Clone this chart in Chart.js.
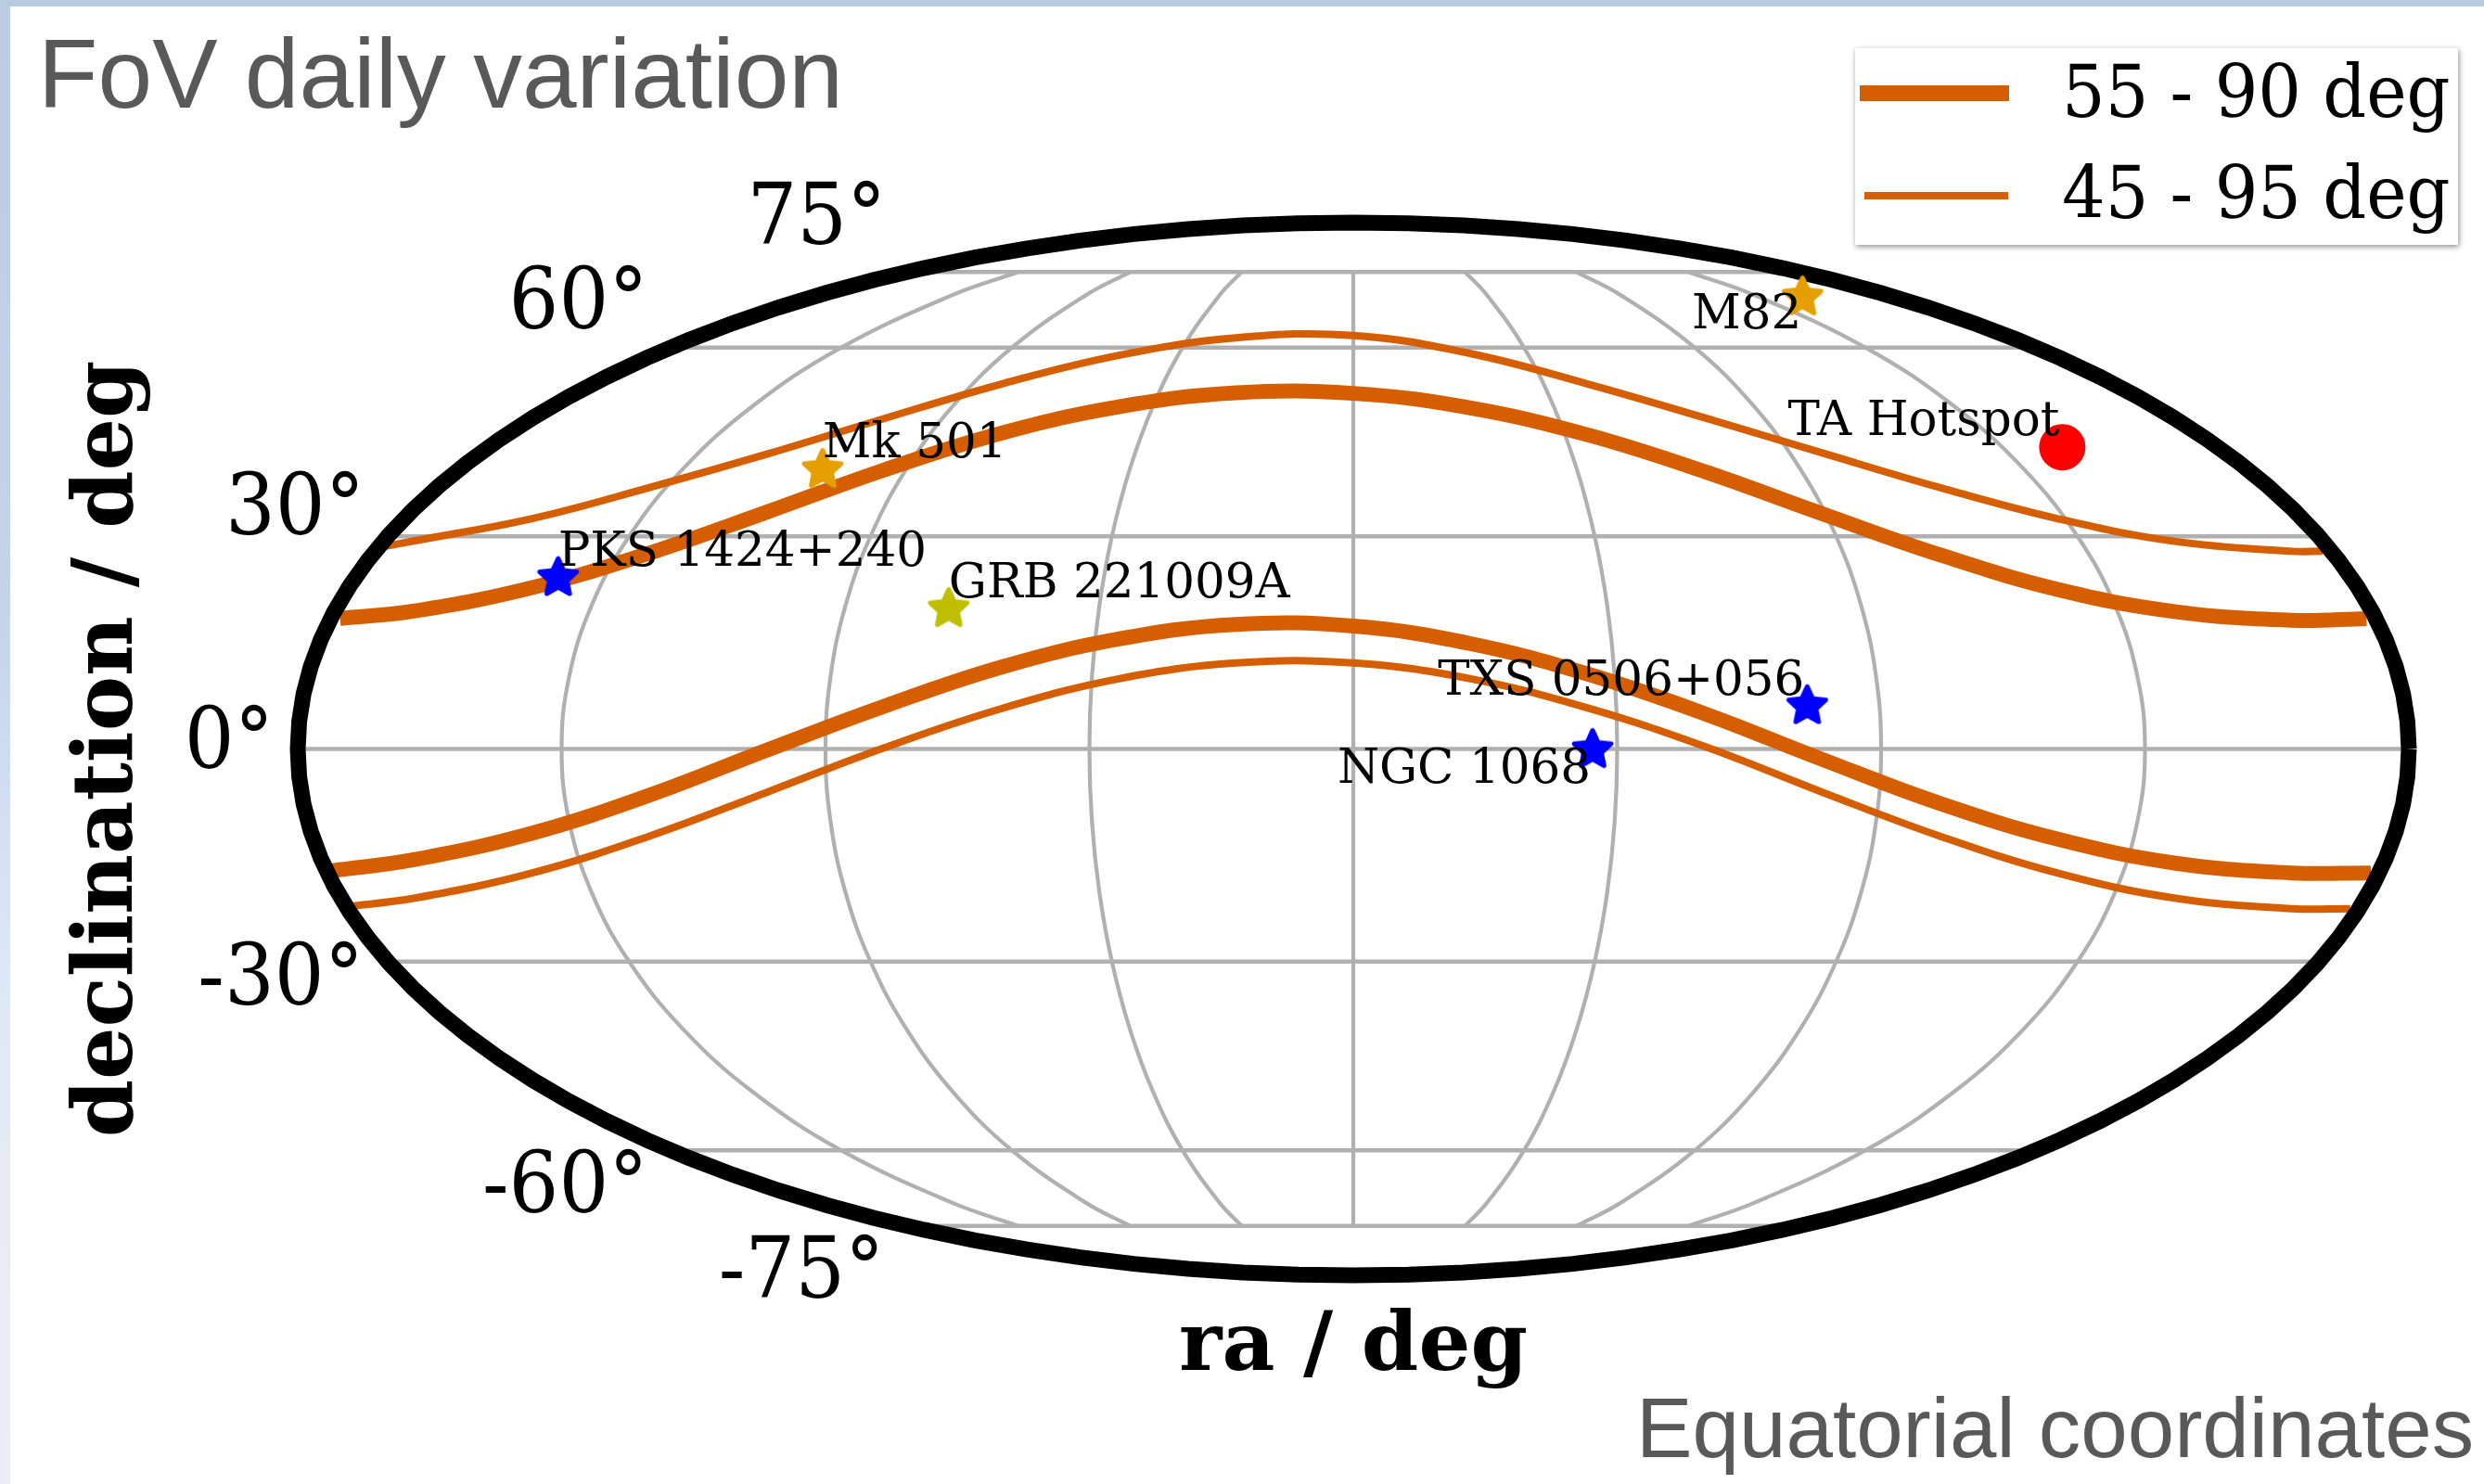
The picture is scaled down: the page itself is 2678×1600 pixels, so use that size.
<!DOCTYPE html>
<html>
<head>
<meta charset="utf-8">
<title>FoV daily variation</title>
<script src="https://cdn.jsdelivr.net/npm/chart.js@4"></script>
<style>
html, body { margin: 0; padding: 0; }
body { width: 2678px; height: 1600px; position: relative; overflow: hidden;
  background: linear-gradient(180deg, #bccde3 0%, #c3d4e9 40%, #dce8f5 66%, #e8ebf4 82%, #ebedf4 100%); }
#topbar { position: absolute; left: 0; top: 0; width: 2678px; height: 7px; background: #b9cbe0; }
#sheet { position: absolute; left: 11px; top: 7px; width: 2667px; height: 1593px; background: #fff; }
#fov { position: absolute; left: 0; top: 0; }
</style>
</head>
<body>
<div id="topbar"></div>
<div id="sheet"></div>
<canvas id="fov" width="2678" height="1600"></canvas>
<script>
// all curves and sources are read off the picture in map units:
// x runs -180..180 across the ellipse, y runs -90..90 up it (already projected)
var thickUpperX = [-172.8, -160, -140, -120, -100, -80, -60, -40, -20, 0, 20, 40, 60, 80, 100, 120, 140, 160, 172.8];
var thickUpperY = [22.3, 23.6, 27.6, 33.5, 40.5, 47.7, 54.0, 58.5, 60.9, 60.8, 58.3, 53.7, 47.4, 40.2, 33.2, 27.3, 23.5, 22.0, 22.3];

var thickLowerX = [-174, -160, -140, -120, -100, -80, -60, -40, -20, 0, 20, 40, 60, 80, 100, 120, 140, 160, 173.5];
var thickLowerY = [-20.8, -18.9, -14.4, -7.9, -0.2, 7.3, 14.0, 18.8, 21.3, 21.0, 18.0, 12.8, 6.0, -1.8, -9.3, -15.4, -19.5, -21.2, -21.2];

var thinUpperX = [-165.3, -160, -140, -120, -100, -80, -60, -40, -20, 0, 20, 40, 60, 80, 100, 120, 140, 160, 165.3];
var thinUpperY = [34.6, 35.6, 39.4, 44.7, 50.4, 56.5, 62.4, 67.3, 70.3, 70.7, 67.6, 62.4, 56.6, 50.6, 44.7, 39.4, 35.5, 33.8, 33.8];

var thinLowerX = [-172, -160, -140, -120, -100, -80, -60, -40, -20, 0, 20, 40, 60, 80, 100, 120, 140, 160, 170];
var thinLowerY = [-27.0, -25.5, -21.2, -14.9, -7.4, 0.2, 6.9, 12.0, 14.7, 14.7, 12.0, 7.0, 0.4, -7.4, -14.9, -21.2, -25.5, -27.3, -27.3];

var sourceNames = ["PKS 1424+240", "Mk 501", "GRB 221009A", "M82", "TA Hotspot", "TXS 0506+056", "NGC 1068"];
var sourceX = [-135.6, -90.5, -69.0, 76.6, 120.9, 77.4, 40.8];
var sourceY = [29.4, 47.9, 24.1, 77.4, 51.6, 7.5, 0];

var decTicks = [75, 60, 30, 0, -30, -60, -75];
var raTicks = [-135, -90, -45, 0, 45, 90, 135];
var legendLabels = ["55 - 90 deg", "45 - 95 deg"];

// styles and text offsets, kept apart from the values
var ORANGE = "#d55e00";
var GRID = "#b0b0b0";
var SERIF = "'DejaVu Serif', serif";
var SANS = "'Liberation Sans', Arial, sans-serif";
var sourceColors = ["#0000ff", "#e69f00", "#bfbf00", "#e69f00", "#ff0000", "#0000ff", "#0000ff"];
var labelAlign = ["left", "left", "left", "right", "right", "right", "right"];
var labelDx = [0, 0, 0, -1, -3, -3, -2];
var labelDy = [-12, -12, -12, 35, -13, -11, 36];
var tickDx = [-22, -24, -25, -26, -26, -24, -24];
var tickDy = [-30, -21, -2, 20, 46, 67, 77];

// mollweide: solve the auxiliary angle for a declination
function auxAngle(dec) {
	var phi = dec * Math.PI / 180;
	var t = phi;
	for (var i = 0; i < 40; i++) {
		t = t - (2 * t + Math.sin(2 * t) - Math.PI * Math.sin(phi)) / (2 + 2 * Math.cos(2 * t));
	}
	return t;
}
function project(ra, dec) {
	var t = auxAngle(dec);
	return { x: ra * Math.cos(t), y: 90 * Math.sin(t) };
}
function toPoints(xs, ys) {
	return xs.map(function (x, i) { return { x: x, y: ys[i] }; });
}

// filled star image, chart.js' own 'star' is only strokes
function starImage(color) {
	var size = 56, c = document.createElement("canvas");
	c.width = size; c.height = size;
	var g = c.getContext("2d"), R = 21, r = 10, cx = size / 2, cy = size / 2 + 1;
	g.beginPath();
	for (var i = 0; i < 10; i++) {
		var a = -Math.PI / 2 + i * Math.PI / 5, d = i % 2 ? r : R;
		g.lineTo(cx + d * Math.cos(a), cy + d * Math.sin(a));
	}
	g.closePath();
	g.fillStyle = color; g.strokeStyle = color; g.lineWidth = 5; g.lineJoin = "round";
	g.fill(); g.stroke();
	return c;
}

var datasets = [];

// graticule
decTicks.forEach(function (dec) {
	datasets.push({ label: "dec " + dec, data: [project(-180, dec), project(180, dec)], showLine: true,
		borderColor: GRID, borderWidth: 4.5, pointRadius: 0, order: 10, clip: false });
});
var meridianDecs = [-75, -70, -60, -50, -40, -30, -20, -10, 0, 10, 20, 30, 40, 50, 60, 70, 75];
raTicks.forEach(function (ra) {
	datasets.push({ label: "ra " + ra, data: meridianDecs.map(function (dec) { return project(ra, dec); }), showLine: true,
		borderColor: GRID, borderWidth: 4.2, pointRadius: 0, tension: 0.4, order: 10, clip: false });
});

// the four FoV curves
[[thickUpperX, thickUpperY, 16, legendLabels[0]], [thickLowerX, thickLowerY, 16, legendLabels[0]],
 [thinUpperX, thinUpperY, 8, legendLabels[1]], [thinLowerX, thinLowerY, 8, legendLabels[1]]].forEach(function (c) {
	datasets.push({ label: c[3], data: toPoints(c[0], c[1]), showLine: true, borderColor: ORANGE, borderWidth: c[2],
		pointRadius: 0, tension: 0.4, borderCapStyle: "butt", order: 5, clip: false });
});

// outline of the sky
var frameAngles = [];
for (var a = 0; a <= 360; a += 3) { frameAngles.push(a * Math.PI / 180); }
datasets.push({ label: "frame", data: frameAngles.map(function (t) { return { x: 180 * Math.cos(t), y: 90 * Math.sin(t) }; }), showLine: true,
	borderColor: "#000", borderWidth: 17, pointRadius: 0, order: 3, clip: false });

// sources
sourceNames.forEach(function (name, i) {
	var isDot = name === "TA Hotspot";
	datasets.push({ label: name, data: [{ x: sourceX[i], y: sourceY[i] }], showLine: false,
		pointStyle: isDot ? "circle" : starImage(sourceColors[i]), pointRadius: isDot ? 25 : 28,
		backgroundColor: sourceColors[i], borderColor: sourceColors[i], borderWidth: 0, order: 1, clip: false });
});

// text squeezed sideways, the labels in the picture are a bit narrower than the font
function squeezed(ctx, text, x, y, sx) {
	ctx.save();
	ctx.translate(x, y);
	ctx.scale(sx, 1);
	ctx.fillText(text, 0, 0);
	ctx.restore();
}

var textPlugin = {
	id: "skyText",
	afterDraw: function (chart) {
		var ctx = chart.ctx, sx = chart.scales.x, sy = chart.scales.y;
		ctx.save();
		ctx.textBaseline = "alphabetic";

		// declination labels
		ctx.fillStyle = "#000";
		ctx.textAlign = "right";
		ctx.font = "92px " + SERIF;
		decTicks.forEach(function (dec, i) {
			var p = project(-180, dec);
			squeezed(ctx, dec + "°", sx.getPixelForValue(p.x) + tickDx[i], sy.getPixelForValue(p.y) + tickDy[i], 0.92);
		});

		// source labels
		ctx.font = "51.5px " + SERIF;
		sourceNames.forEach(function (name, i) {
			ctx.textAlign = labelAlign[i];
			ctx.fillText(name, sx.getPixelForValue(sourceX[i]) + labelDx[i], sy.getPixelForValue(sourceY[i]) + labelDy[i]);
		});

		// slide captions
		ctx.fillStyle = "#595959";
		ctx.textAlign = "left";
		ctx.font = "106px " + SANS;
		ctx.fillText("FoV daily variation", 41, 116, 868);
		ctx.font = "91px " + SANS;
		ctx.fillText("Equatorial coordinates", 1764, 1571, 903);

		// legend
		ctx.save();
		ctx.shadowColor = "rgba(0,0,0,0.45)";
		ctx.shadowBlur = 6;
		ctx.shadowOffsetX = 1;
		ctx.shadowOffsetY = 2;
		ctx.fillStyle = "#fff";
		ctx.fillRect(2000, 52, 650, 212);
		ctx.restore();
		ctx.strokeStyle = ORANGE;
		ctx.lineWidth = 17;
		ctx.beginPath(); ctx.moveTo(2005, 100.5); ctx.lineTo(2166, 100.5); ctx.stroke();
		ctx.lineWidth = 8;
		ctx.beginPath(); ctx.moveTo(2010, 211); ctx.lineTo(2165, 211); ctx.stroke();
		ctx.fillStyle = "#000";
		ctx.font = "78px " + SERIF;
		squeezed(ctx, legendLabels[0], 2223, 126, 0.94);
		squeezed(ctx, legendLabels[1], 2223, 235, 0.94);
		ctx.restore();
	}
};

new Chart(document.getElementById("fov"), {
	type: "scatter",
	data: { datasets: datasets },
	plugins: [textPlugin],
	options: {
		responsive: false,
		animation: false,
		layout: { padding: { left: 65, right: 81, top: 240, bottom: 93 } },
		elements: { line: { fill: false } },
		plugins: { legend: { display: false }, tooltip: { enabled: false } },
		scales: {
			x: {
				type: "linear", min: -180, max: 180,
				grid: { display: false }, border: { display: false }, ticks: { display: false },
				title: { display: true, text: "ra / deg", color: "#000",
					font: { family: SERIF, size: 88, weight: "bold", lineHeight: 1.2 }, padding: { top: 18.4, bottom: 0 } }
			},
			y: {
				type: "linear", min: -90, max: 90,
				grid: { display: false }, border: { display: false }, ticks: { display: false },
				title: { display: true, text: "declination / deg", color: "#000",
					font: { family: SERIF, size: 89, weight: "bold", lineHeight: 1.2 }, padding: { top: 0, bottom: 141.2 } }
			}
		}
	}
});
</script>
</body>
</html>
